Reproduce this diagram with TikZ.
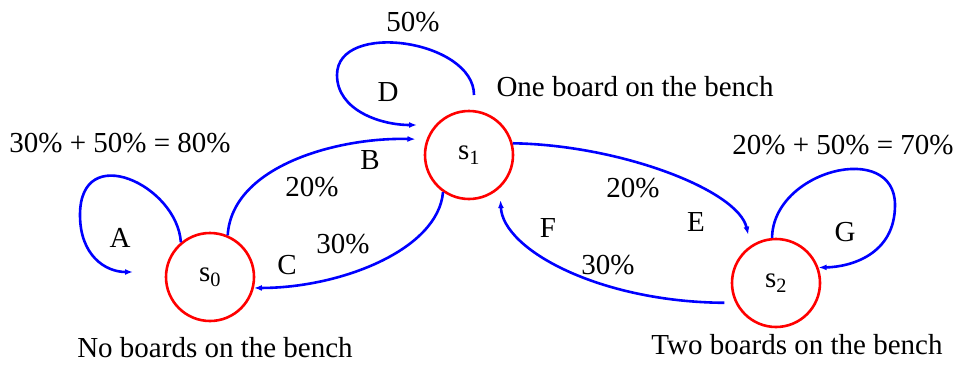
\documentclass[tikz,border=0pt]{standalone}
\usepackage{fontspec}
\setmainfont{Liberation Serif}
\usetikzlibrary{positioning,arrows.meta}

\begin{document}
\begin{tikzpicture}[x=1pt,y=-1pt]
\tikzset{
    state/.style={circle, draw=red, line width=2.6pt, minimum size=88pt, inner sep=0pt, font=\fontsize{29}{34}\selectfont},
    txt/.style={inner sep=2pt, font=\fontsize{29}{34}\selectfont},
    trans/.style={draw=blue, line width=2.6pt, -{Latex[length=8pt,width=6pt]}}
}
\useasboundingbox (0,0) rectangle (960,364);
% states
\node[state] (s0) at (210,277) {s\textsubscript{0}};
\node[state] (s1) at (469,155) {s\textsubscript{1}};
\node[state] (s2) at (776,283) {s\textsubscript{2}};
\node[txt, below=13pt of s0, xshift=5pt] (d0) {No boards on the bench};
\node[txt] (d1) at (635,87) {One board on the bench};
\node[txt, below=4pt of s2, xshift=21pt] (d2) {Two boards on the bench};
% free ends of the loops
\coordinate (aend) at (133,272);
\coordinate (dstart) at (474,95);
\coordinate (dend) at (417,125);
% self loops
\draw[trans] (s0.130) .. controls (177,185) and (80,140) .. (80,215)
    .. controls (80,255) and (105,272) .. (aend);
\draw[trans] (dstart) .. controls (474,40) and (337,20) .. (337,75)
    .. controls (337,110) and (380,125) .. (dend);
\draw[trans] (s2.95) .. controls (773,170) and (895,140) .. (895,205)
    .. controls (895,255) and (850,267) .. (s2.20);
% transitions
\draw[trans, shorten >=11pt] (s0.67) .. controls (232,165) and (340,137) .. (s1.160);
\draw[trans] (s1.235) .. controls (438,250) and (340,288) .. (s0.-14);
\draw[trans, shorten >=11pt] (s1.15) .. controls (620,145) and (738,190) .. (s2.124);
\draw[trans, shorten <=11pt, shorten >=12pt] (s2.-154) .. controls (600,302) and (503,250) .. (s1.-47);
% labels
\node[txt] (la) at (120,238) {A};
\node[txt] (pa) at (120,143) {30\% + 50\% = 80\%};
\node[txt] (lb) at (370,160) {B};
\node[txt] (pb) at (312,187) {20\%};
\node[txt] (lc) at (287,265) {C};
\node[txt] (pc) at (343,244) {30\%};
\node[txt] (ld) at (388,92) {D};
\node[txt] (pd) at (413,22) {50\%};
\node[txt] (le) at (696,222) {E};
\node[txt] (pe) at (633,188) {20\%};
\node[txt] (lf) at (548,228) {F};
\node[txt] (pf) at (608,265) {30\%};
\node[txt] (lg) at (845,232) {G};
\node[txt] (pg) at (843,145) {20\% + 50\% = 70\%};
\end{tikzpicture}
\end{document}
